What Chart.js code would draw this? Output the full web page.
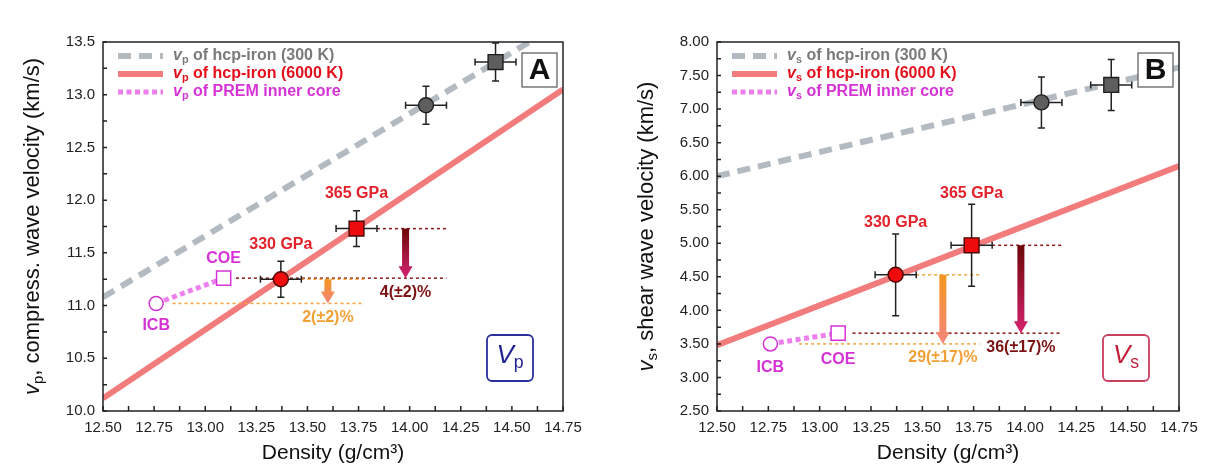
<!DOCTYPE html>
<html>
<head>
<meta charset="utf-8">
<script src="https://cdn.jsdelivr.net/npm/chart.js@4.4.1/dist/chart.umd.min.js"></script>
<style>
  body { margin: 0; background: #fff; }
  .wrap { position: absolute; top: 0; height: 476px; }
  #boxA { left: 0; width: 612px; }
  #boxB { left: 612px; width: 613px; }
</style>
</head>
<body>
<div class="wrap" id="boxA"><canvas id="chartA"></canvas></div>
<div class="wrap" id="boxB"><canvas id="chartB"></canvas></div>
<script>
// Droites d'ajustement (bouts à 12.50 et 14.75 g/cm3)
const fitDensity = [12.5, 14.75];
const vp300K = [11.08, 13.69];
const vp6000K = [10.12, 13.05];
const vs300K = [6.0, 7.62];
const vs6000K = [3.48, 6.15];

// PREM : ICB et COE
const premLabels = ['ICB', 'COE'];
const premDensity = [12.76, 13.09];
const vpPrem = [11.02, 11.26];
const vsPrem = [3.50, 3.66];

// Mesures à 300 K (gris)
const coldDensity = [14.08, 14.42];
const vpCold = [12.90, 13.31];
const vpColdErr = [0.18, 0.18];
const vsCold = [7.10, 7.36];
const vsColdErr = [0.38, 0.38];

// Mesures à haute température (rouge)
const hotLabels = ['330 GPa', '365 GPa'];
const hotDensity = [13.37, 13.74];
const vpHot = [11.25, 11.73];
const vpHotErr = [0.17, 0.17];
const vsHot = [4.53, 4.97];
const vsHotErr = [0.61, 0.61];
const densityErr = [0.1, 0.1];

// Écarts avec PREM (flèches)
const arrowDensity = [13.60, 13.98];
const vpDiff = ['2(±2)%', '4(±2)%'];
const vsDiff = ['29(±17)%', '36(±17)%'];
const guideEnd = [13.78, 14.18];
const vpGuideStart = [12.84, 13.15];
const vsGuideStart = [12.90, 13.16];

// Graduations [min, max, pas]
const densityTicks = [12.5, 14.75, 0.25];
const vpTicks = [10.0, 13.5, 0.5];
const vsTicks = [2.5, 8.0, 0.5];

const FONT = "'Liberation Sans', Arial, sans-serif";
Chart.defaults.font.family = FONT;

const MAGENTA = '#d633d6';
const guideColors = ['#f2a33e', '#8a1717'];
const arrowColors = [['#f3961f', '#f4857c'], ['#6c0707', '#d6226f']];
const diffColors = ['#f0a035', '#7c1212'];

function pts(xs, ys) {
    return xs.map((x, i) => ({ x: x, y: ys[i] }));
}

function partFont(size, weight, st) {
    const fs = st === 's' ? size * 0.68 : size;
    return (st === 'i' ? 'italic ' : '') + weight + ' ' + fs + 'px ' + FONT;
}

function richWidth(ctx, parts, size, weight) {
    let w = 0;
    parts.forEach(([t, st]) => {
        ctx.font = partFont(size, weight, st);
        w += ctx.measureText(t).width;
    });
    return w;
}

// texte avec v italique et indice
function drawRich(ctx, parts, x, y, size, weight, color, align) {
    let cx = x;
    if (align === 'center') cx -= richWidth(ctx, parts, size, weight) / 2;
    ctx.fillStyle = color;
    ctx.textAlign = 'left';
    ctx.textBaseline = 'middle';
    parts.forEach(([t, st]) => {
        ctx.font = partFont(size, weight, st);
        ctx.fillText(t, cx, y + (st === 's' ? size * 0.28 : 0));
        cx += ctx.measureText(t).width;
    });
}

function drawText(ctx, t, x, y, size, color) {
    ctx.font = 'bold ' + size + 'px ' + FONT;
    ctx.fillStyle = color;
    ctx.textAlign = 'center';
    ctx.textBaseline = 'middle';
    ctx.fillText(t, x, y);
}

function drawArrow(ctx, x, y0, y1, shaftW, headW, headL, c0, c1) {
    const g = ctx.createLinearGradient(0, y0, 0, y1);
    g.addColorStop(0, c0);
    g.addColorStop(1, c1);
    ctx.fillStyle = g;
    ctx.beginPath();
    ctx.moveTo(x - shaftW / 2, y0);
    ctx.lineTo(x + shaftW / 2, y0);
    ctx.lineTo(x + shaftW / 2, y1 - headL);
    ctx.lineTo(x + headW / 2, y1 - headL);
    ctx.lineTo(x, y1);
    ctx.lineTo(x - headW / 2, y1 - headL);
    ctx.lineTo(x - shaftW / 2, y1 - headL);
    ctx.closePath();
    ctx.fill();
}

function decoPlugin(p) {
    return {
        id: 'deco',
        beforeDatasetDraw(chart, args) {
            const ds = chart.data.datasets[args.index];
            if (!ds.errY) return;
            const ctx = chart.ctx, xs = chart.scales.x, ys = chart.scales.y;
            ctx.save();
            ctx.strokeStyle = '#222';
            ctx.lineWidth = 1.5;
            ds.data.forEach((pt, i) => {
                const cx = xs.getPixelForValue(pt.x), cy = ys.getPixelForValue(pt.y);
                const x0 = xs.getPixelForValue(pt.x - ds.errX[i]);
                const x1 = xs.getPixelForValue(pt.x + ds.errX[i]);
                const y0 = ys.getPixelForValue(pt.y + ds.errY[i]);
                const y1 = ys.getPixelForValue(pt.y - ds.errY[i]);
                ctx.beginPath();
                ctx.moveTo(x0, cy); ctx.lineTo(x1, cy);
                ctx.moveTo(x0, cy - 3.5); ctx.lineTo(x0, cy + 3.5);
                ctx.moveTo(x1, cy - 3.5); ctx.lineTo(x1, cy + 3.5);
                ctx.moveTo(cx, y0); ctx.lineTo(cx, y1);
                ctx.moveTo(cx - 3.5, y0); ctx.lineTo(cx + 3.5, y0);
                ctx.moveTo(cx - 3.5, y1); ctx.lineTo(cx + 3.5, y1);
                ctx.stroke();
            });
            ctx.restore();
        },
        afterDatasetsDraw(chart) {
            const ctx = chart.ctx, xs = chart.scales.x, ys = chart.scales.y;
            const a = chart.chartArea;
            ctx.save();

            // flèches + pourcentages
            for (let i = 0; i < 2; i++) {
                const x = xs.getPixelForValue(arrowDensity[i]);
                const yTop = ys.getPixelForValue(p.hot[i]);
                const yTip = ys.getPixelForValue(p.prem[i]);
                drawArrow(ctx, x, yTop, yTip, 7, 14, 12, arrowColors[i][0], arrowColors[i][1]);
                drawText(ctx, p.diff[i], x, yTip + 14, 16, diffColors[i]);
            }

            // étiquettes des points
            for (let i = 0; i < 2; i++) {
                const hx = xs.getPixelForValue(hotDensity[i]);
                const hy = ys.getPixelForValue(p.hot[i] + p.hotErr[i]) - p.hotGap;
                drawText(ctx, hotLabels[i], hx, hy, 16, '#e2212a');
                const px = xs.getPixelForValue(premDensity[i]);
                const py = ys.getPixelForValue(p.prem[i]) + p.premDy[i];
                drawText(ctx, premLabels[i], px, py, 16, MAGENTA);
            }

            // légende
            const legend = [
                { color: '#b3bac1', dash: [13, 8], w: 6, text: '#7a7a7a', t: ' of hcp-iron (300 K)' },
                { color: '#f27c7c', dash: [], w: 6, text: '#e3101c', t: ' of hcp-iron (6000 K)' },
                { color: '#ee80ee', dash: [5, 3.5], w: 5, text: MAGENTA, t: ' of PREM inner core' }
            ];
            legend.forEach((e, k) => {
                const y = a.top + 14 + k * 18;
                ctx.strokeStyle = e.color;
                ctx.lineWidth = e.w;
                ctx.setLineDash(e.dash);
                ctx.beginPath();
                ctx.moveTo(a.left + 15, y);
                ctx.lineTo(a.left + 60, y);
                ctx.stroke();
                ctx.setLineDash([]);
                drawRich(ctx, [['v', 'i'], [p.sym, 's'], [e.t, '']], a.left + 70, y, 16, 'bold', e.text, 'left');
            });

            // cadre
            ctx.strokeStyle = '#222';
            ctx.lineWidth = 1.5;
            ctx.strokeRect(a.left, a.top, a.right - a.left, a.bottom - a.top);

            // graduations intérieures
            ctx.beginPath();
            for (let k = 0; ; k++) {
                const v = densityTicks[0] + k * densityTicks[2] / 2;
                if (v > densityTicks[1] + 1e-9) break;
                const x = xs.getPixelForValue(v);
                ctx.moveTo(x, a.bottom);
                ctx.lineTo(x, a.bottom - 5);
            }
            for (let k = 0; ; k++) {
                const v = p.ticks[0] + k * p.ticks[2] / 2;
                if (v > p.ticks[1] + 1e-9) break;
                const y = ys.getPixelForValue(v);
                ctx.moveTo(a.left, y);
                ctx.lineTo(a.left + 4, y);
            }
            ctx.stroke();

            // encadré lettre
            ctx.fillStyle = '#fff';
            ctx.fillRect(a.right - 41, a.top + 11, 35, 34);
            ctx.strokeStyle = '#555';
            ctx.lineWidth = 1.2;
            ctx.strokeRect(a.right - 41, a.top + 11, 35, 34);
            drawText(ctx, p.letter, a.right - 23.5, a.top + 29, 30, '#111');

            // encadré Vp / Vs
            ctx.strokeStyle = p.boxColor;
            ctx.lineWidth = 1.8;
            ctx.beginPath();
            ctx.roundRect(a.right - 76, a.bottom - 76, 46, 46, 5);
            ctx.stroke();
            drawRich(ctx, [['V', 'i'], [p.sym, 's']], a.right - 53, a.bottom - 55, 26, 'normal', p.boxText, 'center');

            // titre de l'axe vertical
            ctx.translate(p.titleX, (a.top + a.bottom) / 2);
            ctx.rotate(-Math.PI / 2);
            drawRich(ctx, [['v', 'i'], [p.sym, 's'], [p.title, '']], 0, 0, 22, 'normal', '#111', 'center');
            ctx.restore();
        }
    };
}

function makeChart(p) {
    const datasets = [
        {
            data: pts(hotDensity, p.hot), errX: densityErr, errY: p.hotErr,
            pointStyle: ['circle', 'rect'], pointRadius: [7.5, 10.5],
            backgroundColor: '#ee0b0b', borderColor: '#4a0808', borderWidth: 1.4
        },
        {
            data: pts(coldDensity, p.cold), errX: densityErr, errY: p.coldErr,
            pointStyle: ['circle', 'rect'], pointRadius: [7.5, 10.5],
            backgroundColor: '#5e5e5e', borderColor: '#1e1e1e', borderWidth: 1.4
        },
        {
            data: pts(premDensity, p.prem),
            pointStyle: ['circle', 'rect'], pointRadius: [7, 10],
            backgroundColor: '#fff', borderColor: MAGENTA, borderWidth: 1.5
        },
        {
            data: pts(premDensity, p.prem), showLine: true, pointRadius: 0,
            borderColor: '#ee80ee', borderWidth: 5, borderDash: [5, 3.5]
        }
    ];
    // lignes pointillées de repère
    for (let i = 0; i < 2; i++) {
        datasets.push({
            data: [{ x: hotDensity[i] + densityErr[i], y: p.hot[i] }, { x: guideEnd[i], y: p.hot[i] }],
            showLine: true, pointRadius: 0, borderColor: guideColors[i], borderWidth: 1.5, borderDash: [3, 3]
        });
        datasets.push({
            data: [{ x: p.guideStart[i], y: p.prem[i] }, { x: guideEnd[i], y: p.prem[i] }],
            showLine: true, pointRadius: 0, borderColor: guideColors[i], borderWidth: 1.5, borderDash: [3, 3]
        });
    }
    datasets.push({
        data: pts(fitDensity, p.v6000), showLine: true, pointRadius: 0, clip: 0,
        borderColor: '#f27c7c', borderWidth: 6
    });
    datasets.push({
        data: pts(fitDensity, p.v300), showLine: true, pointRadius: 0, clip: 0,
        borderColor: '#b3bac1', borderWidth: 6, borderDash: [13, 8]
    });

    new Chart(document.getElementById(p.id), {
        type: 'scatter',
        data: { datasets: datasets },
        options: {
            responsive: true,
            maintainAspectRatio: false,
            animation: false,
            events: [],
            layout: { padding: { top: 42, right: p.padRight, bottom: 0, left: 0 } },
            plugins: { legend: { display: false }, tooltip: { enabled: false } },
            scales: {
                x: {
                    type: 'linear',
                    min: densityTicks[0],
                    max: densityTicks[1],
                    ticks: {
                        stepSize: densityTicks[2], autoSkip: false, maxRotation: 0,
                        padding: 8, color: '#222', font: { size: 15 },
                        callback: v => v.toFixed(2)
                    },
                    grid: { display: false, drawTicks: false },
                    border: { display: false },
                    title: {
                        display: true, text: 'Density (g/cm³)', color: '#111',
                        font: { size: 21 }, padding: { top: 0, bottom: 10 }
                    },
                    afterFit: s => { s.height = 65; }
                },
                y: {
                    type: 'linear',
                    min: p.ticks[0],
                    max: p.ticks[1],
                    ticks: {
                        stepSize: p.ticks[2], autoSkip: false,
                        padding: 8, color: '#222', font: { size: 15 },
                        callback: v => v.toFixed(p.decimals)
                    },
                    grid: { display: false, drawTicks: false },
                    border: { display: false },
                    afterFit: s => { s.width = p.yWidth; }
                }
            }
        },
        plugins: [decoPlugin(p)]
    });
}

makeChart({
    id: 'chartA', sym: 'p', letter: 'A', title: ', compress. wave velocity (km/s)',
    v300: vp300K, v6000: vp6000K, prem: vpPrem, cold: vpCold, coldErr: vpColdErr,
    hot: vpHot, hotErr: vpHotErr, diff: vpDiff, guideStart: vpGuideStart,
    ticks: vpTicks, decimals: 1, yWidth: 103, padRight: 49, titleX: 33,
    hotGap: 17, premDy: [22, -20], boxColor: '#2b2f9c', boxText: '#1f238f'
});

makeChart({
    id: 'chartB', sym: 's', letter: 'B', title: ', shear wave velocity (km/s)',
    v300: vs300K, v6000: vs6000K, prem: vsPrem, cold: vsCold, coldErr: vsColdErr,
    hot: vsHot, hotErr: vsHotErr, diff: vsDiff, guideStart: vsGuideStart,
    ticks: vsTicks, decimals: 2, yWidth: 105, padRight: 46, titleX: 35,
    hotGap: 11, premDy: [24, 26], boxColor: '#c9405e', boxText: '#c31f3c'
});
</script>
</body>
</html>
